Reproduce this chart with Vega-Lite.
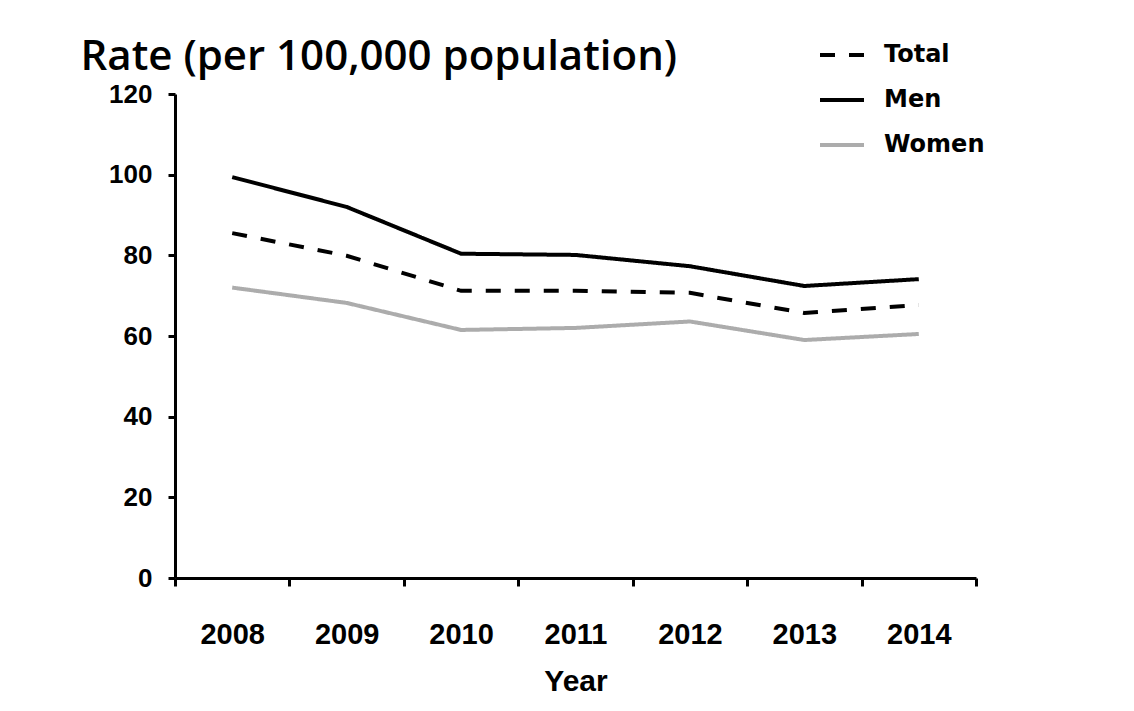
{
  "$schema": "https://vega.github.io/schema/vega-lite/v6.json",
  "width": 801,
  "height": 484,
  "autosize": {"type": "none"},
  "padding": {"left": 175, "top": 94, "right": 158, "bottom": 133},
  "background": "white",
  "data": {
    "values": [
      {"year": 2008, "group": "Women", "rate": 72.0},
      {"year": 2009, "group": "Women", "rate": 68.2},
      {"year": 2010, "group": "Women", "rate": 61.5},
      {"year": 2011, "group": "Women", "rate": 62.0},
      {"year": 2012, "group": "Women", "rate": 63.6},
      {"year": 2013, "group": "Women", "rate": 59.0},
      {"year": 2014, "group": "Women", "rate": 60.5},
      {"year": 2008, "group": "Total", "rate": 85.5},
      {"year": 2009, "group": "Total", "rate": 79.9},
      {"year": 2010, "group": "Total", "rate": 71.2},
      {"year": 2011, "group": "Total", "rate": 71.2},
      {"year": 2012, "group": "Total", "rate": 70.7},
      {"year": 2013, "group": "Total", "rate": 65.7},
      {"year": 2014, "group": "Total", "rate": 67.7},
      {"year": 2008, "group": "Men", "rate": 99.4},
      {"year": 2009, "group": "Men", "rate": 92.0},
      {"year": 2010, "group": "Men", "rate": 80.4},
      {"year": 2011, "group": "Men", "rate": 80.1},
      {"year": 2012, "group": "Men", "rate": 77.3},
      {"year": 2013, "group": "Men", "rate": 72.4},
      {"year": 2014, "group": "Men", "rate": 74.1}
    ]
  },
  "mark": {"type": "line", "strokeWidth": 4, "strokeCap": "butt"},
  "encoding": {
    "x": {
      "field": "year",
      "type": "ordinal",
      "scale": {"type": "band", "paddingInner": 0, "paddingOuter": 0},
      "axis": {
        "title": "Year",
        "titleFont": "Liberation Sans",
        "titleFontSize": 30,
        "titleFontWeight": "bold",
        "titleColor": "black",
        "titlePadding": 17,
        "labelAngle": 0,
        "tickBand": "extent",
        "tickSize": 8,
        "tickWidth": 3,
        "tickColor": "black",
        "domainColor": "black",
        "domainWidth": 3,
        "labelFont": "Liberation Sans",
        "labelFontWeight": "bold",
        "labelFontSize": 29,
        "labelColor": "black",
        "labelPadding": 34,
        "grid": false
      }
    },
    "y": {
      "field": "rate",
      "type": "quantitative",
      "scale": {"domain": [0, 120]},
      "axis": {
        "title": "Rate (per 100,000 population)",
        "titleAngle": 0,
        "titleX": -95,
        "titleY": -25,
        "titleAlign": "left",
        "titleBaseline": "alphabetic",
        "titleFont": "Open Sans",
        "titleFontSize": 42,
        "titleFontWeight": 600,
        "titleColor": "black",
        "values": [0, 20, 40, 60, 80, 100, 120],
        "grid": false,
        "tickSize": 7,
        "tickWidth": 3,
        "tickColor": "black",
        "domainColor": "black",
        "domainWidth": 3,
        "labelFont": "Liberation Sans",
        "labelFontWeight": "bold",
        "labelFontSize": 26,
        "labelColor": "black",
        "labelPadding": 16
      }
    },
    "color": {
      "field": "group",
      "type": "nominal",
      "scale": {"domain": ["Total", "Men", "Women"], "range": ["#000000", "#000000", "#acacac"]},
      "legend": {
        "title": null,
        "orient": "none",
        "legendX": 643,
        "legendY": -63,
        "symbolType": "stroke",
        "symbolSize": 1936,
        "symbolStrokeWidth": 4,
        "labelFont": "DejaVu Sans",
        "labelFontWeight": "bold",
        "labelFontSize": 24,
        "labelColor": "black",
        "labelOffset": 18,
        "rowPadding": 9,
        "padding": 0
      }
    },
    "strokeDash": {
      "field": "group",
      "type": "nominal",
      "scale": {"domain": ["Total", "Men", "Women"], "range": [[15, 14], [1, 0], [1, 0]]},
      "legend": {
        "title": null,
        "orient": "none",
        "legendX": 643,
        "legendY": -63,
        "symbolType": "stroke",
        "symbolSize": 1936,
        "symbolStrokeWidth": 4,
        "labelFont": "DejaVu Sans",
        "labelFontWeight": "bold",
        "labelFontSize": 24,
        "labelColor": "black",
        "labelOffset": 18,
        "rowPadding": 9,
        "padding": 0
      }
    }
  },
  "config": {"view": {"stroke": null}}
}
